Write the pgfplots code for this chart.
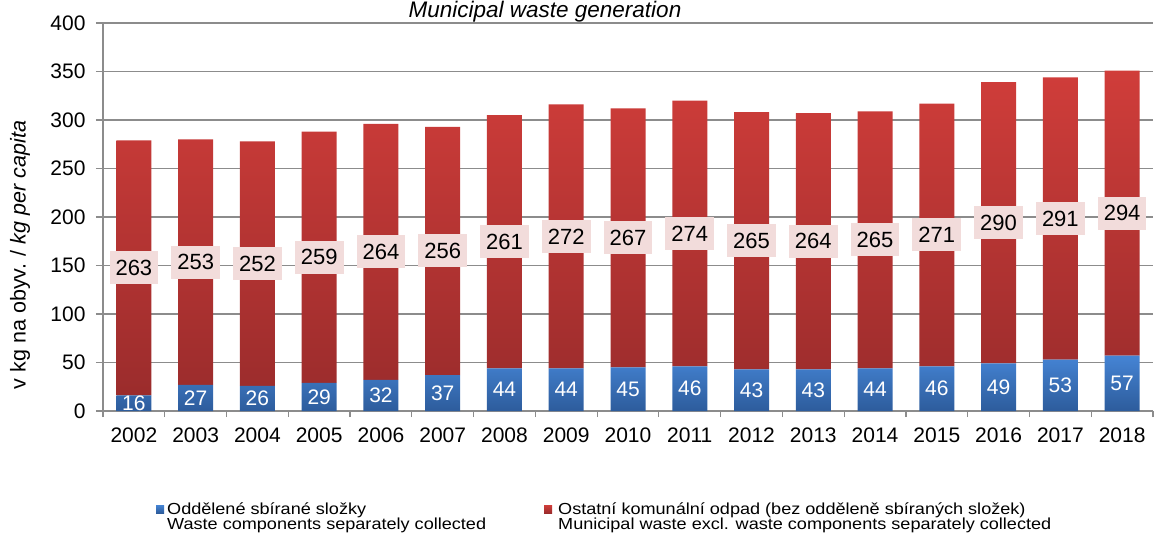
\documentclass[border=0pt]{standalone}
\usepackage{pgfplots}
\pgfplotsset{compat=1.18}
\usepackage{pgfplotstable}
\usepackage{fontspec}
\setmainfont{Liberation Sans}
\newfontfamily\legfont[FakeStretch=1.13]{Liberation Sans}
\definecolor{bluetop}{HTML}{4584D4}
\definecolor{bluebot}{HTML}{2D5C9C}
\definecolor{redtop}{HTML}{D03D3A}
\definecolor{redbot}{HTML}{9B2C2C}
\definecolor{pinklab}{HTML}{F2DCDB}
\definecolor{axgray}{HTML}{8C8C8C}

\pgfplotstableread{
x year b r
0 2002 16 263
1 2003 27 253
2 2004 26 252
3 2005 29 259
4 2006 32 264
5 2007 37 256
6 2008 44 261
7 2009 44 272
8 2010 45 267
9 2011 46 274
10 2012 43 265
11 2013 43 264
12 2014 44 265
13 2015 46 271
14 2016 49 290
15 2017 53 291
16 2018 57 294
}\data

\begin{document}
\begin{tikzpicture}
\useasboundingbox (-103pt,-130pt) rectangle (1052pt,411pt);
\clip (-103pt,-130pt) rectangle (1052pt,411pt);
\begin{axis}[
  at={(0pt,0pt)}, anchor=south west,
  scale only axis, width=1050pt, height=388pt,
  ybar stacked, bar width=35pt,
  xmin=-0.5, xmax=16.5, ymin=0, ymax=400,
  enlargelimits=false,
  xtick={0,...,16},
  xticklabels={2002,2003,2004,2005,2006,2007,2008,2009,2010,2011,2012,2013,2014,2015,2016,2017,2018},
  minor xtick={-0.5,0.5,...,16.5},
  ytick={0,50,...,400},
  axis x line*=bottom, axis y line*=left,
  axis line style={axgray, line width=1.2pt},
  tick align=outside, major tick length=7pt, minor tick length=6pt,
  major x tick style={draw=none},
  minor x tick style={axgray, line width=1.2pt},
  ytick style={axgray, line width=1.2pt},
  ymajorgrids, grid style={axgray, line width=1.2pt},
  tick label style={font=\fontsize{21}{25}\selectfont, text=black},
  /pgf/number format/assume math mode=true,
  xticklabel style={yshift=-6pt},
  yticklabel style={xshift=-7pt},
  ylabel={v kg na obyv. / \textit{kg per capita}},
  ylabel style={at={(axis description cs:-0.079,0.402)}, anchor=center, font=\fontsize{21.5}{25}\selectfont},
]
\addplot[ybar, draw=none, top color=bluetop, bottom color=bluebot] table[x=x,y=b]{\data};
\addplot[ybar, draw=none, top color=redtop, bottom color=redbot] table[x=x,y=r]{\data};
\end{axis}
\begin{axis}[
  at={(0pt,0pt)}, anchor=south west,
  scale only axis, width=1050pt, height=388pt,
  xmin=-0.5, xmax=16.5, ymin=0, ymax=400,
  hide axis, clip=false,
]
\addplot[draw=none, mark=none, nodes near coords, point meta=explicit symbolic,
  every node near coord/.append style={anchor=center, text=white, font=\fontsize{21}{25}\selectfont}]
  table[x=x, y expr=\thisrow{b}/2, meta=b]{\data};
\addplot[draw=none, mark=none, nodes near coords, point meta=explicit symbolic,
  every node near coord/.append style={anchor=center, fill=pinklab, text=black, minimum height=33pt, inner xsep=6pt, font=\fontsize{22}{26}\selectfont}]
  table[x=x, y expr=\thisrow{b}+\thisrow{r}/2, meta=r]{\data};
\end{axis}
% title
\node[anchor=base, inner sep=0pt, font=\fontsize{22.5}{26}\selectfont\itshape] at (442pt,393pt) {Municipal waste generation};
% legend
\shade[top color=bluetop, bottom color=bluebot] (53pt,-102pt) rectangle (61pt,-94pt);
\node[anchor=north west, inner sep=0pt, align=left, font=\legfont\fontsize{16}{15}\selectfont] at (64pt,-92pt) {Oddělené sbírané složky\\Waste components separately collected};
\shade[top color=redtop, bottom color=redbot] (441pt,-102pt) rectangle (449pt,-94pt);
\node[anchor=north west, inner sep=0pt, align=left, font=\legfont\fontsize{16}{15}\selectfont] at (455pt,-92pt) {Ostatní komunální odpad (bez odděleně sbíraných složek)\\Municipal waste excl. waste components separately collected};
\end{tikzpicture}
\end{document}
